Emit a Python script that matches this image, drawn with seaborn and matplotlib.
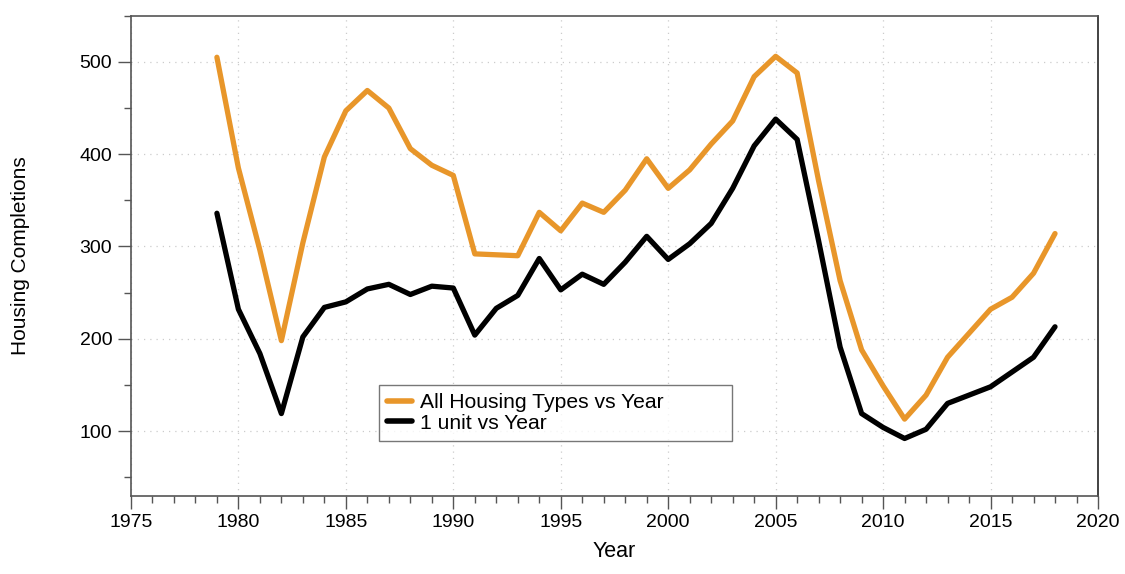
import pandas as pd
import numpy as np
import matplotlib
matplotlib.use("Agg")
import matplotlib.pyplot as plt
from matplotlib.ticker import MultipleLocator
import seaborn as sns

# --------------------------------------------------------------
# Data (thousands of units)
# --------------------------------------------------------------
years = list(range(1979, 2019))

all_types = [505, 385, 296, 198, 304, 397, 447, 469, 450, 406,
             388, 377, 292, 291, 290, 337, 317, 347, 337, 361,
             395, 363, 383, 411, 436, 484, 506, 488, 371, 263,
             188, 149, 113, 139, 180, 206, 232, 245, 271, 314]

one_unit = [336, 232, 184, 119, 202, 234, 240, 254, 259, 248,
            257, 255, 204, 233, 247, 287, 253, 270, 259, 283,
            311, 286, 303, 325, 363, 409, 438, 416, 306, 191,
            119, 104, 92, 102, 130, 139, 148, 164, 180, 213]

series_names = ["All Housing Types vs Year", "1 unit vs Year"]
colors = ["#E8962A", "black"]

df = pd.concat([
    pd.DataFrame({"Year": years, "Completions": all_types, "series": series_names[0]}),
    pd.DataFrame({"Year": years, "Completions": one_unit, "series": series_names[1]}),
])

# --------------------------------------------------------------
# Plot
# --------------------------------------------------------------
sns.set_style("white")
plt.rcParams["font.family"] = ["Liberation Sans", "DejaVu Sans"]
plt.rcParams["text.color"] = "black"
plt.rcParams["axes.labelcolor"] = "black"
plt.rcParams["xtick.labelcolor"] = "black"
plt.rcParams["ytick.labelcolor"] = "black"

fig = plt.figure(figsize=(11.25, 5.74), dpi=100)
ax = fig.add_axes([0.1164, 0.1364, 0.8596, 0.8362])

sns.lineplot(data=df, x="Year", y="Completions", hue="series",
             palette=dict(zip(series_names, colors)), linewidth=3.8,
             ax=ax, legend=False)

ax.set_xlim(1975, 2020)
ax.set_ylim(30, 550)
ax.xaxis.set_major_locator(MultipleLocator(5))
ax.xaxis.set_minor_locator(MultipleLocator(1))
ax.yaxis.set_major_locator(MultipleLocator(100))
ax.yaxis.set_minor_locator(MultipleLocator(50))
ax.tick_params(which="major", direction="out", length=9.5, width=1.0,
               color="#555555", labelsize=14, pad=4, left=True, bottom=True)
ax.tick_params(which="minor", direction="out", length=5, width=1.0,
               color="#555555", left=True, bottom=True)

ax.grid(True, which="major", linestyle=(0, (1, 4)), color="#cccccc", linewidth=0.9)

for side in ["left", "bottom", "top"]:
    ax.spines[side].set_color("#555555")
    ax.spines[side].set_linewidth(1.2)
ax.spines["right"].set_color("#222222")
ax.spines["right"].set_linewidth(1.2)

ax.set_xlabel("Year", fontsize=15.5)
ax.set_ylabel("Housing Completions", fontsize=15)
ax.xaxis.set_label_coords(0.5, -0.095)
ax.yaxis.set_label_coords(-0.104, 0.5)

handles = [plt.Line2D([], [], color=c, linewidth=4) for c in colors]
leg = ax.legend(handles, series_names, loc="lower left", mode="expand",
                bbox_to_anchor=(0.256, 0.114, 0.366, 0.121), fontsize=15.2,
                frameon=True, fancybox=False, edgecolor="#555555",
                handlelength=1.2, handletextpad=0.38, borderpad=0.4,
                labelspacing=0.05, borderaxespad=0)
leg.get_frame().set_linewidth(1.0)

plt.savefig("out.png", dpi=100)
